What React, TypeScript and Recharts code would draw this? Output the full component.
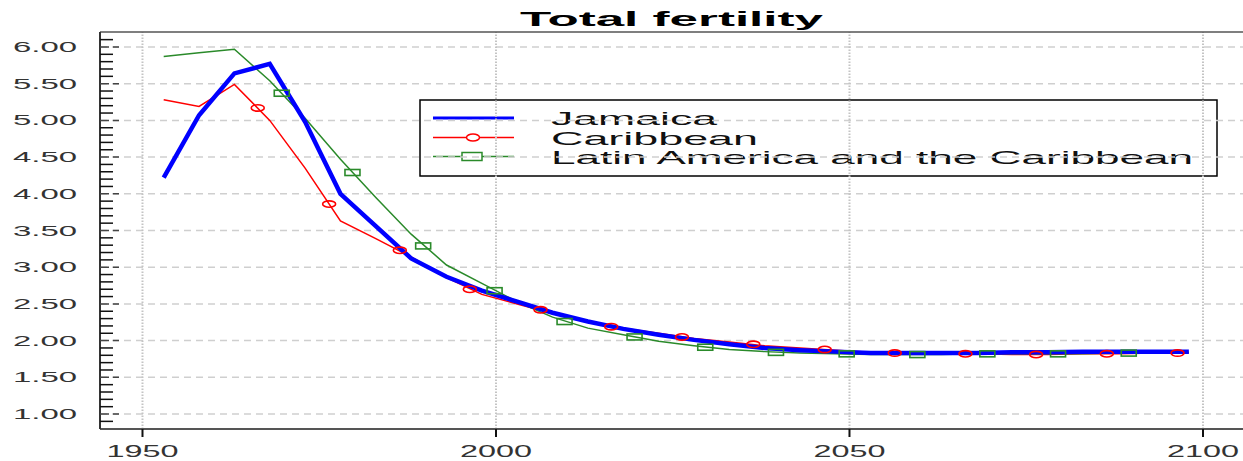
import React from 'react';
import { ComposedChart, Line, XAxis, YAxis, ReferenceLine } from 'recharts';

const years = [1953, 1958, 1963, 1968, 1973, 1978, 1983, 1988, 1993, 1998, 2003, 2008, 2013, 2018, 2023, 2028, 2033, 2038, 2043, 2048, 2053, 2058, 2063, 2068, 2073, 2078, 2083, 2088, 2093, 2098];
const jamaica = [4.22, 5.07, 5.64, 5.77, 4.98, 4.0, 3.56, 3.12, 2.87, 2.68, 2.53, 2.38, 2.26, 2.16, 2.08, 2.01, 1.95, 1.9, 1.87, 1.85, 1.83, 1.83, 1.83, 1.83, 1.84, 1.84, 1.85, 1.85, 1.85, 1.85];
const caribbean = [5.28, 5.19, 5.49, 5.0, 4.35, 3.63, 3.39, 3.14, 2.86, 2.63, 2.5, 2.37, 2.25, 2.17, 2.1, 2.03, 1.98, 1.93, 1.9, 1.87, 1.84, 1.83, 1.82, 1.82, 1.81, 1.81, 1.82, 1.82, 1.83, 1.83];
const latinAmerica = [5.87, 5.92, 5.97, 5.54, 5.03, 4.47, 3.95, 3.45, 3.03, 2.78, 2.53, 2.32, 2.17, 2.08, 1.99, 1.93, 1.88, 1.85, 1.83, 1.82, 1.81, 1.81, 1.81, 1.82, 1.82, 1.82, 1.82, 1.83, 1.83, 1.84];

const caribbeanMarkerYears = [1966.3, 1976.4, 1986.4, 1996.3, 2006.3, 2016.3, 2026.3, 2036.4, 2046.5, 2056.4, 2066.4, 2076.4, 2086.4, 2096.4];
const caribbeanMarkerValues = [5.17, 3.86, 3.23, 2.7, 2.42, 2.19, 2.05, 1.95, 1.88, 1.83, 1.82, 1.81, 1.82, 1.83];
const latinMarkerYears = [1969.7, 1979.7, 1989.7, 1999.8, 2009.7, 2019.6, 2029.6, 2039.6, 2049.6, 2059.6, 2069.5, 2079.5, 2089.5];
const latinMarkerValues = [5.37, 4.29, 3.29, 2.68, 2.26, 2.05, 1.91, 1.84, 1.82, 1.81, 1.82, 1.82, 1.83];

const xTicks = [1950, 2000, 2050, 2100];
const yMajorTicks = [1, 1.5, 2, 2.5, 3, 3.5, 4, 4.5, 5, 5.5, 6];
const yAllTicks = [0.9, 1, 1.1, 1.2, 1.3, 1.4, 1.5, 1.6, 1.7, 1.8, 1.9, 2, 2.1, 2.2, 2.3, 2.4, 2.5, 2.6, 2.7, 2.8, 2.9, 3, 3.1, 3.2, 3.3, 3.4, 3.5, 3.6, 3.7, 3.8, 3.9, 4, 4.1, 4.2, 4.3, 4.4, 4.5, 4.6, 4.7, 4.8, 4.9, 5, 5.1, 5.2, 5.3, 5.4, 5.5, 5.6, 5.7, 5.8, 5.9, 6, 6.1];
const yTickLabels = ['1.00', '1.50', '2.00', '2.50', '3.00', '3.50', '4.00', '4.50', '5.00', '5.50', '6.00'];

const seriesNames = ['Jamaica', 'Caribbean', 'Latin America and the Caribbean'];
const COLORS = { jamaica: '#0000ff', caribbean: '#ff0000', latin: '#2a8a2a' };
const FONT = '"Liberation Sans", Arial, sans-serif';

const toRows = (xs: number[], vs: number[]) => xs.map((x, i) => ({ year: x, v: vs[i] }));
const jamaicaData = toRows(years, jamaica);
const caribbeanData = toRows(years, caribbean);
const latinData = toRows(years, latinAmerica);
const caribbeanMarkers = toRows(caribbeanMarkerYears, caribbeanMarkerValues);
const latinMarkers = toRows(latinMarkerYears, latinMarkerValues);

const YTick = (props: any) => {
  const { x, y, payload } = props;
  const v = payload.value;
  const idx = yMajorTicks.findIndex((m) => Math.abs(m - v) < 1e-6);
  if (idx >= 0) {
    return (
      <g>
        <line x1={x} x2={x + 24} y1={y} y2={y} stroke="#444" strokeWidth={1.5} strokeDasharray="9 4 6 100" />
        <text x={x - 23} y={y} dy={5} textAnchor="end" fontSize={14} fontFamily={FONT} fill="#333" textLength={64} lengthAdjust="spacingAndGlyphs">
          {yTickLabels[idx]}
        </text>
      </g>
    );
  }
  return <line x1={x} x2={x + 13} y1={y} y2={y} stroke="#111" strokeWidth={1.5} />;
};

const XTick = (props: any) => {
  const { x, y, payload } = props;
  return (
    <g>
      <line x1={x} x2={x} y1={y} y2={y + 8} stroke="#111" strokeWidth={2} />
      <text x={x} y={y + 28} textAnchor="middle" fontSize={16} fontFamily={FONT} fill="#333" textLength={72} lengthAdjust="spacingAndGlyphs">
        {String(payload.value)}
      </text>
    </g>
  );
};

const circleDot = (props: any) => {
  const { cx, cy, index } = props;
  if (cx == null || cy == null) return <g key={`c${index}`} />;
  return <ellipse key={`c${index}`} cx={cx} cy={cy} rx={6.5} ry={3.2} fill="none" stroke={COLORS.caribbean} strokeWidth={1.6} />;
};

const squareDot = (props: any) => {
  const { cx, cy, index } = props;
  if (cx == null || cy == null) return <g key={`s${index}`} />;
  return <rect key={`s${index}`} x={cx - 7.5} y={cy - 3} width={15} height={6} fill="none" stroke={COLORS.latin} strokeWidth={1.6} />;
};

export default function App() {
  return (
    <div style={{ position: 'fixed', left: 0, top: 0, width: 1243, height: 461, overflow: 'hidden', background: '#fff' }}>
      <ComposedChart width={1243} height={461} margin={{ top: 32, right: 0, bottom: 0, left: 0 }}>
        <XAxis
          type="number"
          dataKey="year"
          domain={[1943.99, 2105.66]}
          ticks={xTicks}
          allowDataOverflow
          height={32}
          tickSize={0}
          tickMargin={0}
          tickLine={false}
          tick={<XTick />}
          axisLine={{ stroke: '#555', strokeWidth: 2 }}
          interval={0}
        />
        <YAxis
          type="number"
          domain={[0.796, 6.204]}
          ticks={yAllTicks}
          allowDataOverflow
          width={100}
          tickSize={0}
          tickMargin={0}
          tickLine={false}
          tick={<YTick />}
          axisLine={{ stroke: '#333', strokeWidth: 2 }}
          interval={0}
        />
        {yMajorTicks.map((t) => (
          <ReferenceLine key={`h${t}`} y={t} stroke="#cfcfcf" strokeWidth={1.5} strokeDasharray="7 5" />
        ))}
        {xTicks.map((t) => (
          <ReferenceLine key={`v${t}`} x={t} stroke="#c4c4c4" strokeWidth={2} strokeDasharray="1.5 1.5" />
        ))}
        <ReferenceLine y={6.204} stroke="#555" strokeWidth={1.5} />
        <Line data={caribbeanData} dataKey="v" name={seriesNames[1]} type="linear" stroke={COLORS.caribbean} strokeWidth={1.5} dot={false} activeDot={false} isAnimationActive={false} />
        <Line data={latinData} dataKey="v" name={seriesNames[2]} type="linear" stroke={COLORS.latin} strokeWidth={1.5} dot={false} activeDot={false} isAnimationActive={false} />
        <Line data={jamaicaData} dataKey="v" name={seriesNames[0]} type="linear" stroke={COLORS.jamaica} strokeWidth={4.5} dot={false} activeDot={false} isAnimationActive={false} />
        <Line data={caribbeanMarkers} dataKey="v" type="linear" stroke="none" dot={circleDot} activeDot={false} legendType="none" isAnimationActive={false} />
        <Line data={latinMarkers} dataKey="v" type="linear" stroke="none" dot={squareDot} activeDot={false} legendType="none" isAnimationActive={false} />

        <text x={671.5} y={26} textAnchor="middle" fontSize={20} fontWeight="bold" fontFamily={FONT} fill="#000" textLength={303} lengthAdjust="spacingAndGlyphs">
          Total fertility
        </text>

        <g>
          <rect x={420} y={100} width={797} height={76} fill="#fff" stroke="#000" strokeWidth={1.5} />
          <line x1={433} x2={514} y1={118} y2={118} stroke={COLORS.jamaica} strokeWidth={3} />
          <line x1={433} x2={514} y1={137.5} y2={137.5} stroke={COLORS.caribbean} strokeWidth={1.5} />
          <ellipse cx={473} cy={137.5} rx={6.5} ry={3.5} fill="#fff" stroke={COLORS.caribbean} strokeWidth={1.5} />
          <line x1={433} x2={514} y1={156.5} y2={156.5} stroke={COLORS.latin} strokeWidth={1.5} />
          <rect x={462} y={152.5} width={20} height={8} fill="#fff" stroke={COLORS.latin} strokeWidth={1.5} />
          <text x={551} y={125} fontSize={19} fontFamily={FONT} fill="#111" textLength={166} lengthAdjust="spacingAndGlyphs">{seriesNames[0]}</text>
          <text x={551} y={144.5} fontSize={19} fontFamily={FONT} fill="#111" textLength={207} lengthAdjust="spacingAndGlyphs">{seriesNames[1]}</text>
          <text x={551} y={164} fontSize={19} fontFamily={FONT} fill="#111" textLength={642} lengthAdjust="spacingAndGlyphs">{seriesNames[2]}</text>
        </g>
      </ComposedChart>
    </div>
  );
}
